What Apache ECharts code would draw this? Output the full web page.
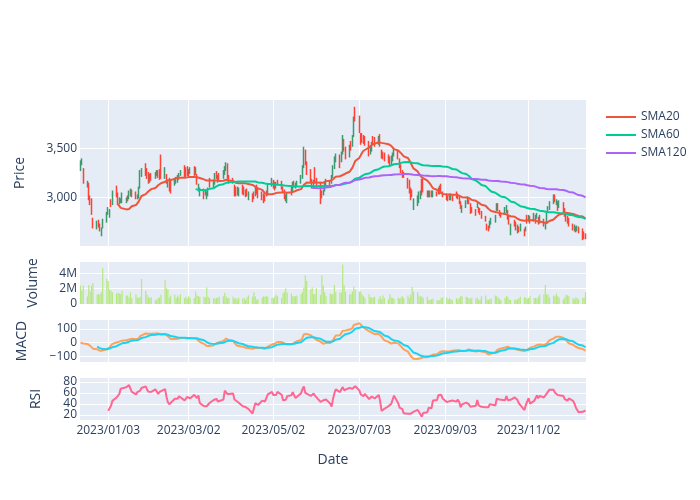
<!DOCTYPE html>
<html>
<head>
<meta charset="utf-8">
<script src="https://cdn.jsdelivr.net/npm/echarts@6/dist/echarts.min.js"></script>
<style>html,body{margin:0;padding:0;background:#fff;}#chart{width:700px;height:500px;}</style>
</head>
<body>
<div id="chart"></div>
<script>
// ---- data ----
const startDate = [2022, 11, 14]; // first trading day (business days follow)
const xTickLabels = ['2023/01/03','2023/03/02','2023/05/02','2023/07/03','2023/09/03','2023/11/02'];
const priceTicks = [3000, 3500];
const volumeTicks = [0, 2, 4];
const macdTicks = [-100, 0, 100];
const rsiTicks = [20, 40, 60, 80];

const opens = [
3280,3350,3290,3110,3140,3000,2980,2770,2690,2760,
2720,2620,2690,2750,2830,2840,2960,2930,3080,3040,
2940,2950,2950,2950,3010,2990,3020,3070,3050,2990,
3000,3100,3220,3340,3290,3250,3160,3240,3200,3230,
3270,3260,3300,3200,3230,3110,3190,3170,3130,3150,
3160,3190,3230,3320,3300,3310,3280,3250,3310,3240,
3230,3070,3020,3080,3070,2990,3020,3190,3110,3140,
3260,3160,3240,3200,3240,3280,3340,3220,3190,3120,
3100,3100,3020,3120,3100,3070,3080,2980,3030,3050,
3020,3120,3080,3050,3030,3020,3060,3030,3120,3170,
3150,3100,3170,3160,3100,3070,3020,2960,3100,3060,
3160,3100,3120,3150,3200,3310,3480,3360,3280,3180,
3100,3250,3190,3150,3060,3030,3070,3120,3170,3150,
3210,3300,3370,3430,3370,3450,3590,3510,3420,3570,
3530,3630,3890,3830,3650,3650,3630,3620,3570,3450,
3480,3620,3610,3550,3640,3480,3460,3450,3430,3410,
3330,3380,3430,3470,3390,3330,3270,3250,3190,3170,
3090,3070,2900,2920,2950,2990,3120,3180,3060,3010,
3060,3060,3010,3050,3090,3040,3130,3050,3030,3010,
3030,2980,3010,3050,3030,3000,2950,2850,2900,2940,
2970,2930,2890,2870,2900,2890,2880,2850,2800,2720,
2700,2690,2730,2750,2870,2930,2860,2840,2830,2850,
2860,2810,2620,2760,2740,2640,2690,2660,2670,2660,
2810,2760,2800,2760,2810,2790,2790,2740,2770,2680,
2740,2850,2880,2940,3020,2930,2950,2900,2940,2880,
2830,2800,2780,2720,2660,2690,2660,2690,2670,2640,
2620];
const closes = [
3360,3380,3160,3150,2990,2940,2840,2700,2750,2700,
2670,2680,2770,2840,2890,2860,2920,3060,3020,2930,
2990,2980,3000,2990,2970,3060,3080,3010,2990,3020,
3100,3270,3290,3230,3200,3150,3230,3180,3250,3270,
3210,3190,3200,3300,3150,3170,3130,3050,3190,3200,
3220,3240,3260,3220,3210,3230,3210,3300,3230,3300,
3140,3130,3090,3010,3030,3050,3090,3110,3170,3240,
3200,3220,3180,3270,3310,3340,3200,3150,3150,3020,
3020,3030,3090,3040,3030,3010,3020,3050,2970,2990,
3100,3040,3000,2980,2950,2970,3020,3130,3190,3100,
3080,3150,3140,3090,3060,2990,2970,3040,3030,3150,
3110,3140,3160,3220,3320,3510,3340,3240,3160,3100,
3170,3150,3110,3020,3010,3070,3140,3180,3120,3220,
3320,3410,3440,3310,3460,3620,3480,3400,3530,3490,
3630,3820,3790,3670,3550,3570,3560,3540,3430,3520,
3560,3550,3530,3620,3530,3420,3400,3380,3360,3340,
3420,3450,3500,3400,3310,3260,3210,3220,3100,3050,
2980,3010,2980,3010,3050,3060,3030,3060,3010,3060,
3010,3010,3060,3020,3040,3110,3050,3010,2980,2970,
2980,3030,2970,3000,2990,2940,2890,2910,2960,3000,
2940,2840,2850,2820,2940,2850,2830,2790,2760,2680,
2660,2750,2780,2810,2930,2870,2820,2800,2890,2910,
2780,2730,2720,2710,2670,2710,2650,2720,2610,2690,
2740,2810,2740,2830,2740,2830,2730,2810,2710,2740,
2850,2900,2950,3020,2960,2970,2870,2960,2840,2810,
2760,2740,2710,2670,2710,2650,2700,2640,2600,2590,
2590];
const highs = [
3380,3400,3300,3170,3150,3020,2990,2790,2760,2770,
2730,2690,2780,2850,2900,2880,2980,3070,3120,3050,
3000,2990,3050,3000,3020,3070,3090,3080,3060,3030,
3110,3280,3300,3350,3300,3260,3240,3250,3260,3280,
3280,3290,3440,3310,3240,3180,3200,3180,3200,3210,
3230,3250,3280,3330,3310,3320,3290,3310,3320,3310,
3240,3140,3100,3090,3080,3060,3100,3200,3180,3250,
3270,3230,3250,3280,3320,3360,3350,3230,3200,3130,
3110,3110,3100,3130,3110,3080,3090,3060,3040,3060,
3110,3130,3090,3060,3040,3030,3070,3140,3200,3180,
3160,3160,3180,3170,3110,3080,3030,3050,3110,3160,
3170,3150,3170,3230,3330,3520,3490,3370,3290,3190,
3180,3310,3200,3160,3070,3080,3150,3190,3180,3230,
3330,3420,3450,3440,3470,3640,3600,3520,3540,3580,
3640,3830,3930,3840,3660,3660,3640,3630,3580,3530,
3570,3630,3620,3630,3650,3490,3470,3460,3440,3420,
3430,3460,3510,3480,3400,3340,3280,3260,3200,3180,
3100,3080,2990,3020,3060,3070,3190,3190,3070,3070,
3070,3070,3070,3060,3100,3120,3140,3060,3040,3020,
3040,3040,3020,3060,3040,3010,2960,2920,2970,3010,
2980,2940,2900,2880,2950,2900,2890,2860,2810,2730,
2710,2760,2790,2820,2940,2940,2870,2850,2900,2920,
2870,2820,2730,2770,2750,2720,2700,2730,2680,2700,
2820,2820,2810,2840,2820,2840,2800,2820,2780,2750,
2860,2910,2960,3030,3030,2980,2960,2970,2950,2890,
2840,2810,2790,2730,2720,2700,2710,2700,2680,2650,
2630];
const lows = [
3270,3330,3140,3100,2970,2920,2820,2680,2670,2690,
2650,2600,2680,2740,2820,2790,2900,2920,3000,2920,
2930,2940,2940,2940,2960,2980,3010,3000,2980,2980,
2990,3090,3210,3220,3190,3140,3150,3170,3190,3220,
3200,3180,3190,3190,3140,3100,3060,3040,3120,3140,
3150,3180,3220,3210,3200,3220,3200,3240,3220,3230,
3130,3060,3010,2980,3020,2980,3010,3100,3100,3130,
3190,3150,3170,3190,3230,3270,3190,3140,3140,3010,
3010,3020,3010,3030,3020,3000,3010,2970,2950,2980,
3010,3030,2990,2970,2940,2960,3010,3020,3110,3090,
3070,3090,3130,3080,3050,2980,2960,2940,3020,3050,
3100,3090,3110,3140,3190,3300,3330,3230,3150,3090,
3090,3140,3100,2930,2990,3020,3060,3110,3110,3140,
3200,3290,3360,3300,3360,3440,3470,3390,3410,3480,
3520,3620,3780,3660,3540,3560,3550,3530,3420,3440,
3470,3540,3520,3540,3520,3400,3390,3370,3350,3330,
3320,3370,3420,3390,3300,3250,3200,3200,3090,3040,
2970,3000,2870,2910,2940,2980,3020,3050,3000,3000,
3000,3000,3000,3010,3030,3030,3040,3000,2970,2960,
2970,2970,2960,2990,2980,2930,2880,2840,2890,2930,
2930,2830,2840,2810,2890,2840,2820,2780,2750,2660,
2650,2680,2720,2740,2860,2860,2810,2790,2820,2840,
2770,2720,2610,2700,2660,2630,2640,2650,2600,2650,
2730,2750,2730,2750,2730,2780,2720,2730,2700,2670,
2730,2840,2870,2930,2950,2920,2860,2890,2830,2800,
2750,2730,2700,2660,2650,2640,2650,2630,2560,2570,
2570];
// volume in millions
const volumes = [
2.41,1.72,2.41,0.99,2.49,1.63,2.41,2.75,1.20,1.29,
1.29,1.55,4.73,3.27,3.01,1.85,1.72,1.55,1.38,1.46,
1.38,1.29,1.72,1.12,1.12,0.86,1.55,0.77,1.29,0.86,
0.77,0.95,3.27,1.72,1.20,0.86,0.86,0.86,0.52,0.56,
0.77,0.86,1.20,3.10,2.06,1.89,0.86,1.12,1.20,0.77,
1.12,0.86,1.29,0.77,0.95,0.69,1.03,0.77,0.77,1.63,
1.12,1.03,0.95,0.95,0.86,2.15,0.95,0.77,0.77,0.69,
0.77,0.86,0.95,1.03,1.46,1.03,0.77,0.77,0.95,0.69,
0.77,0.60,0.77,0.69,0.77,0.52,0.86,1.12,0.95,1.55,
1.03,0.60,0.60,0.86,1.03,0.95,1.03,0.95,0.77,0.77,
0.95,1.20,1.03,0.77,1.38,1.63,2.06,1.46,1.38,1.03,
1.03,1.03,1.12,1.29,1.55,2.15,3.78,3.01,1.89,2.15,
1.29,1.29,2.06,1.20,3.78,2.41,1.55,1.03,1.38,1.29,
1.29,2.49,1.55,1.55,1.46,5.16,2.49,1.63,1.29,1.29,
1.63,2.28,1.85,1.63,1.63,1.29,1.03,0.77,1.29,0.86,
0.86,0.86,0.95,0.69,1.03,0.60,1.12,0.77,0.60,1.29,
0.86,0.77,0.69,0.86,0.69,0.86,1.03,0.77,1.12,0.77,
1.20,2.24,1.63,1.55,1.12,0.95,1.03,0.77,0.95,0.52,
0.52,0.60,0.69,0.52,0.43,0.52,0.77,0.86,0.86,0.60,
0.77,0.60,0.52,0.77,0.60,0.77,1.03,1.03,0.95,0.86,
0.77,0.69,0.86,0.69,0.86,0.52,0.60,1.03,1.12,0.60,
0.52,0.69,0.69,1.12,1.03,0.86,0.69,0.52,0.77,1.03,
0.95,0.60,0.52,0.60,0.52,0.60,0.77,0.95,0.86,0.86,
0.69,0.77,1.03,0.77,0.77,0.69,0.95,1.20,1.29,2.49,
1.29,1.20,0.86,1.12,1.03,1.38,1.03,0.86,0.60,0.86,
1.20,1.12,1.03,0.77,0.60,0.86,0.77,0.60,0.77,0.86,
1.55];

// ---- dates (business days) ----
const dates = [];
(function(){
  const d = new Date(startDate[0], startDate[1], startDate[2]);
  while (dates.length < closes.length) {
    const wd = d.getDay();
    if (wd !== 0 && wd !== 6) dates.push(d.getTime());
    d.setDate(d.getDate() + 1);
  }
})();
const DAY = 864e5;
const xMin = dates[0] - 0.35 * DAY;
const xMax = dates[dates.length - 1] + 0.35 * DAY;
const tickTs = xTickLabels.map(s => { const p = s.split('/').map(Number); return new Date(p[0], p[1]-1, p[2]).getTime(); });

// ---- indicators derived from closes ----
function sma(n){ return closes.map((v,i)=>{ if(i<n-1) return null; let s=0; for(let k=i-n+1;k<=i;k++) s+=closes[k]; return s/n; }); }
// exponentially weighted mean, normalised weights (pandas adjust=True style)
function ema(arr, span){
  const a = 2/(span+1), out = [];
  let num = 0, den = 0;
  arr.forEach(v => { num = v + (1-a)*num; den = 1 + (1-a)*den; out.push(num/den); });
  return out;
}
const sma20 = sma(20), sma60 = sma(60), sma120 = sma(120);
const e12 = ema(closes,12), e26 = ema(closes,26);
const macd = e12.map((v,i)=>v-e26[i]);
const signalFull = ema(macd,9);
const signal = signalFull.map((v,i)=> i<8 ? null : v);
const rsi = closes.map((v,i)=>{
  if (i < 14) return null;
  let g=0,l=0;
  for (let k=i-13;k<=i;k++){ const d=closes[k]-closes[k-1]; if(d>0) g+=d; else l-=d; }
  if (l===0) return 100;
  return 100 - 100/(1+g/l);
});

const pair = arr => arr.map((v,i)=>[dates[i], v]);

// ---- chart ----
const FONT = '"Open Sans", verdana, arial, sans-serif';
const TXT = '#2a3f5f';
const GRID_LEFT = 80;
const grids = [
  {top:100, height:146},
  {top:262, height:42},
  {top:320, height:42},
  {top:378, height:42}
].map(g => Object.assign({left:GRID_LEFT, right:114, show:true, backgroundColor:'#E5ECF6', borderWidth:0}, g));

function two(n){ return (n<10?'0':'')+n; }
const xAxes = grids.map((g,k)=>({
  type:'value', gridIndex:k, min:xMin, max:xMax, scale:true,
  axisLine:{show:false},
  axisTick:{show:false, customValues: tickTs},
  axisLabel:{show:k===3, customValues: tickTs, color:TXT, fontSize:12, fontFamily:FONT, margin:5,
    hideOverlap:false, showMinLabel:true, showMaxLabel:true,
    formatter: v => { const d=new Date(v); return d.getFullYear()+'/'+two(d.getMonth()+1)+'/'+two(d.getDate()); }},
  splitLine:{show:true, lineStyle:{color:'#ffffff', width:1}}
}));
function yAx(k, min, max, ticks, fmt, showLabels){
  return {type:'value', gridIndex:k, min, max, position:'left',
    axisLine:{show:false}, axisTick:{show:false, customValues:ticks},
    axisLabel:{show:showLabels, customValues:ticks, color:TXT, fontSize:12, fontFamily:FONT, margin:3, formatter:fmt,
      hideOverlap:false, showMinLabel:true, showMaxLabel:true},
    splitLine:{show:true, lineStyle:{color:'#ffffff', width:1}}};
}
const minus = v => v<0 ? '\u2212'+Math.abs(v) : String(v);
const yAxes = [
  yAx(0, 2500, 4000, priceTicks, v => v.toLocaleString('en-US'), true),
  yAx(1, 0, 5.5, volumeTicks, v => v===0 ? '0' : v+'M', true),
  yAx(2, -142, 166, macdTicks, minus, true),
  yAx(3, 10.8, 87.3, rsiTicks, v => String(v), false) // labels placed below (tightly packed)
];

const titleTxt = (text, x, y, rot) => ({type:'text', x, y, rotation: rot ? Math.PI/2 : 0,
  style:{text, fill:TXT, font:'14px '+FONT, textAlign:'center', textVerticalAlign:'middle'}});
const titles = [
  titleTxt('Price', 20, 173, true),
  titleTxt('Volume', 33, 283, true),
  titleTxt('MACD', 22, 341, true),
  titleTxt('RSI', 36, 399, true),
  titleTxt('Date', 333, 460, false)
];

const option = {
  animation:false,
  backgroundColor:'#ffffff',
  textStyle:{fontFamily:FONT},
  grid: grids,
  xAxis: xAxes,
  yAxis: yAxes,
  legend:{
    data:['SMA20','SMA60','SMA120'], orient:'vertical', left:601, top:106,
    icon:'rect', itemWidth:30, itemHeight:2, itemGap:6,
    textStyle:{color:TXT, fontSize:12, fontFamily:FONT}
  },
  graphic: titles,
  series:[
    {type:'candlestick', name:'Price', xAxisIndex:0, yAxisIndex:0, barWidth:1.2,
     data: dates.map((t,i)=>[t, opens[i], closes[i], lows[i], highs[i]]),
     itemStyle:{color:'rgba(61,153,112,0.5)', color0:'rgba(255,65,54,0.5)', borderColor:'#3D9970', borderColor0:'#FF4136', borderWidth:1.5}},
    {type:'line', name:'SMA20', xAxisIndex:0, yAxisIndex:0, data:pair(sma20), showSymbol:false, lineStyle:{color:'#EF553B', width:2}, itemStyle:{color:'#EF553B'}},
    {type:'line', name:'SMA60', xAxisIndex:0, yAxisIndex:0, data:pair(sma60), showSymbol:false, lineStyle:{color:'#00CC96', width:2}, itemStyle:{color:'#00CC96'}},
    {type:'line', name:'SMA120', xAxisIndex:0, yAxisIndex:0, data:pair(sma120), showSymbol:false, lineStyle:{color:'#AB63FA', width:2}, itemStyle:{color:'#AB63FA'}},
    {type:'bar', name:'Volume', xAxisIndex:1, yAxisIndex:1, data:pair(volumes), barWidth:1.2, itemStyle:{color:'#B6E880'}},
    {type:'line', name:'MACD', xAxisIndex:2, yAxisIndex:2, data:pair(macd), showSymbol:false, lineStyle:{color:'#FFA15A', width:2}},
    {type:'line', name:'Signal', xAxisIndex:2, yAxisIndex:2, data:pair(signal), showSymbol:false, lineStyle:{color:'#19D3F3', width:2}},
    {type:'line', name:'RSI', xAxisIndex:3, yAxisIndex:3, data:pair(rsi), showSymbol:false, lineStyle:{color:'#FF6692', width:2}}
  ]
};
const chart = echarts.init(document.getElementById('chart'), null, {renderer:'canvas'});
chart.setOption(option);

// RSI tick labels: positioned through the RSI axis scale (too tightly packed for auto label layout)
const rsiLabels = rsiTicks.map(v => ({
  type:'text', x: GRID_LEFT - 3, y: chart.convertToPixel({yAxisIndex:3}, v),
  style:{text:String(v), fill:TXT, font:'12px '+FONT, textAlign:'right', textVerticalAlign:'middle'}
}));
chart.setOption({graphic: titles.concat(rsiLabels)});
</script>
</body>
</html>
